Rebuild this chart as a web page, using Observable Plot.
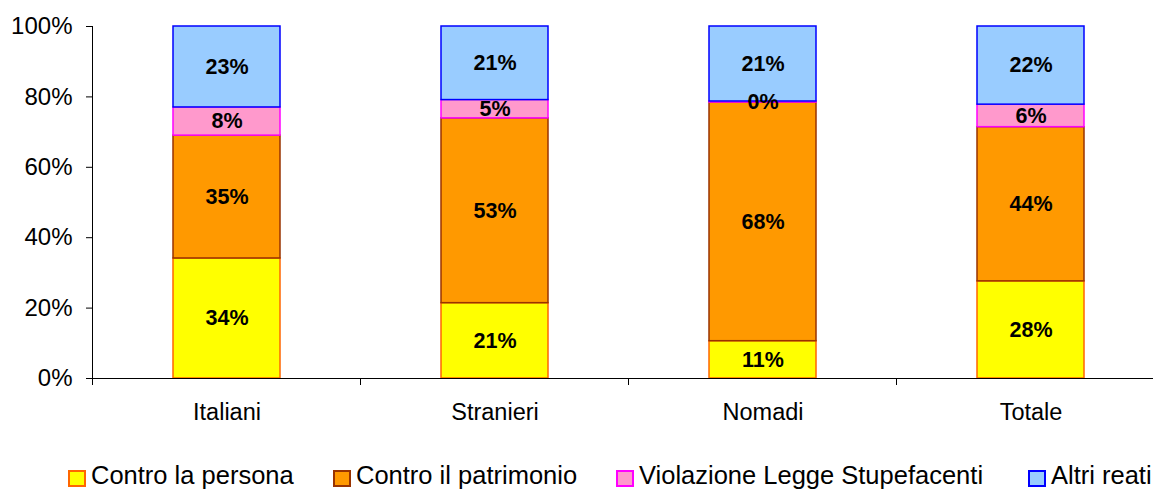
<!DOCTYPE html>
<html>
<head>
<meta charset="utf-8">
<script src="https://cdn.jsdelivr.net/npm/d3@7"></script>
<script src="https://cdn.jsdelivr.net/npm/@observablehq/plot@0.6"></script>
<style>
  body { margin: 0; background: #fff; font-family: "Liberation Sans", Arial, sans-serif; }
  #legend { position: relative; width: 1153px; height: 49px; font-size: 25.5px; color: #000; overflow: hidden; }
  .item { position: absolute; top: 11px; height: 49px; display: flex; align-items: center; white-space: nowrap; }
  .sw { width: 14px; height: 13px; border: 2px solid; margin-right: 5px; margin-top: 5px; }
</style>
</head>
<body>
<div id="chart"></div>
<div id="legend"></div>
<script>
// ---- data ----
const categories = ["Italiani", "Stranieri", "Nomadi", "Totale"];
const series = ["Contro la persona", "Contro il patrimonio", "Violazione Legge Stupefacenti", "Altri reati"];
const controPersona    = [34.1, 21.4, 10.6, 27.6];
const controPatrimonio = [34.9, 52.5, 67.8, 43.8];
const stupefacenti     = [8.0, 5.2, 0.3, 6.4];
const altriReati       = [23.0, 20.9, 21.3, 22.2];
const yTicks = [0, 20, 40, 60, 80, 100];

// ---- style ----
const fills   = ["#FFFF00", "#FF9900", "#FF99CC", "#99CCFF"];
const strokes = ["#FF6600", "#993300", "#FF00FF", "#0000FF"];

const valuesBySeries = [controPersona, controPatrimonio, stupefacenti, altriReati];
const rows = [];
categories.forEach((c, i) => {
  series.forEach((s, j) => {
    rows.push({category: c, series: s, value: valuesBySeries[j][i], fill: fills[j], stroke: strokes[j]});
  });
});

const chart = Plot.plot({
  width: 1153,
  height: 440,
  marginTop: 26,
  marginBottom: 62,
  marginLeft: 93,
  marginRight: -12,
  style: {fontFamily: "'Liberation Sans', Arial, sans-serif", fontSize: "24px", background: "#fff", color: "#000"},
  x: {domain: categories, paddingInner: 0.6, paddingOuter: 0.3, label: null},
  y: {domain: [0, 100], label: null},
  color: {type: "identity"},
  marks: [
    Plot.axisY({ticks: yTicks, tickFormat: d => d + "%", tickSize: 7, tickPadding: 14, stroke: "#000", fontSize: 24}),
    Plot.axisX({tickSize: 0, tickPadding: 25, fontSize: 23.5}),
    Plot.barY(rows, {x: "category", y: "value", z: "series", fill: "fill", stroke: "stroke", strokeWidth: 1.5, order: null}),
    Plot.text(rows, Plot.stackY({x: "category", y: "value", z: "series", order: null,
      text: d => Math.round(d.value) + "%", fontWeight: "bold", fontSize: 21.5, fill: "#000"})),
    Plot.ruleY([0], {stroke: "#000", strokeWidth: 1})
  ]
});
document.getElementById("chart").appendChild(chart);

// axis line and category boundary ticks derived from Plot's own scales
const xs = chart.scale("x");
const ys = chart.scale("y");
const gap = (xs.step - xs.bandwidth) / 2;
const bounds = categories.map(c => xs.apply(c) - gap);
bounds.push(xs.apply(categories[categories.length - 1]) + xs.bandwidth + gap);
const y0 = ys.apply(0), y1 = ys.apply(100);
const g = d3.select(chart).append("g").attr("stroke", "#000").attr("stroke-width", 1);
g.append("line").attr("x1", bounds[0]).attr("x2", bounds[0]).attr("y1", y1).attr("y2", y0 + 7);
bounds.forEach(b => g.append("line").attr("x1", b).attr("x2", b).attr("y1", y0).attr("y2", y0 + 7));

// legend
const legendLeft = [68, 333, 616, 1028];
const legend = document.getElementById("legend");
series.forEach((s, j) => {
  const it = document.createElement("div");
  it.className = "item";
  it.style.left = legendLeft[j] + "px";
  const sw = document.createElement("span");
  sw.className = "sw";
  sw.style.background = fills[j];
  sw.style.borderColor = strokes[j];
  it.appendChild(sw);
  const t = document.createElement("span");
  t.textContent = s;
  it.appendChild(t);
  legend.appendChild(it);
});
</script>
</body>
</html>
